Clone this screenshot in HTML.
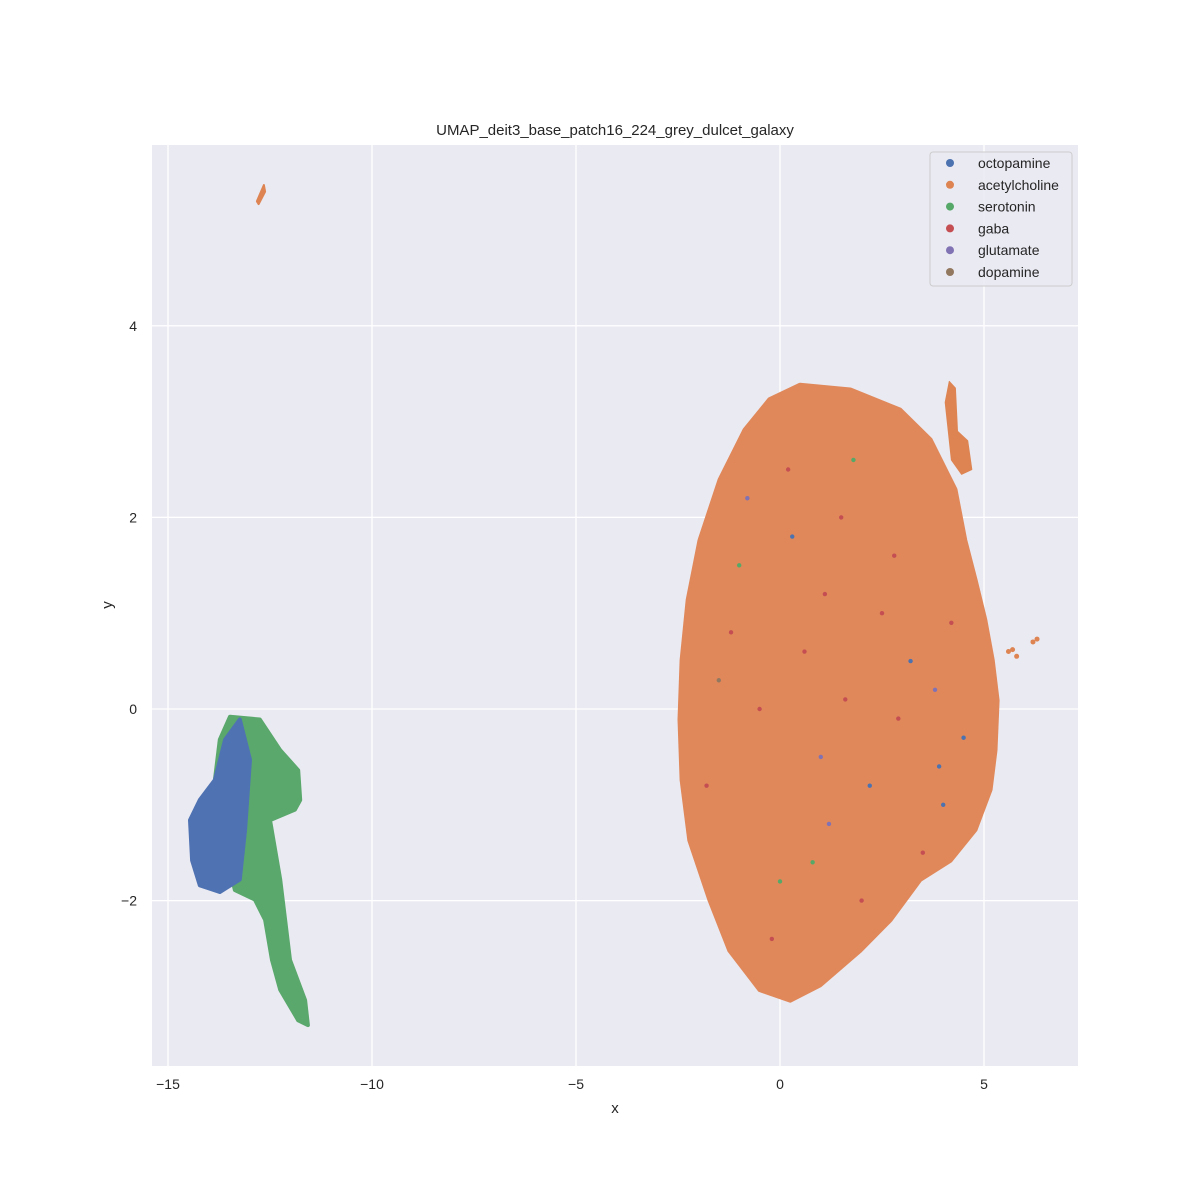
<!DOCTYPE html>
<html><head><meta charset="utf-8"><style>
html,body{margin:0;padding:0;background:#fff;}
svg{display:block;font-family:"Liberation Sans","DejaVu Sans",sans-serif;}
</style></head><body>
<svg id="chart" width="1200" height="1200" viewBox="0 0 1200 1200" xmlns="http://www.w3.org/2000/svg">
<rect x="0" y="0" width="1200" height="1200" fill="#fff"/>
<text x="615" y="135" text-anchor="middle" font-size="15" fill="#262626">UMAP_deit3_base_patch16_224_grey_dulcet_galaxy</text>
<rect x="152" y="145" width="926" height="921" fill="#eaeaf2"/>
<g id="grid"></g>
<g id="marks"></g>
<g id="ticks"></g>
<text x="615" y="1113" text-anchor="middle" font-size="15" fill="#262626">x</text>
<text x="112" y="605" text-anchor="middle" font-size="15" fill="#262626" transform="rotate(-90 112 605)">y</text>
<g id="legend"></g>
</svg>
<script>
const xTicks = [-15, -10, -5, 0, 5];
const xTickLabels = ["\u221215", "\u221210", "\u22125", "0", "5"];
const yTicks = [4, 2, 0, -2];
const yTickLabels = ["4", "2", "0", "\u22122"];
const categories = ["octopamine","acetylcholine","serotonin","gaba","glutamate","dopamine"];
const colors = ["#4c72b0","#dd8452","#55a868","#c44e52","#8172b3","#937860"];
// cluster outlines (data coords)
const acetylMainX = [0.49,1.72,2.94,3.68,4.29,4.53,4.78,5.02,5.2,5.32,5.27,5.15,4.78,4.17,3.43,2.70,1.96,0.98,0.25,-0.49,-1.23,-1.72,-2.21,-2.40,-2.45,-2.40,-2.25,-1.96,-1.47,-0.86,-0.25];
const acetylMainY = [3.38,3.33,3.12,2.81,2.29,1.76,1.35,0.93,0.51,0.09,-0.43,-0.84,-1.26,-1.58,-1.78,-2.20,-2.52,-2.88,-3.04,-2.93,-2.52,-1.99,-1.37,-0.74,-0.11,0.51,1.14,1.76,2.39,2.91,3.23];
const serotoninX = [-13.48,-12.75,-12.25,-11.81,-11.76,-11.89,-12.5,-12.25,-12.13,-12.01,-11.64,-11.57,-11.81,-12.25,-12.45,-12.62,-12.87,-13.36,-13.60,-13.77,-13.85,-13.73];
const serotoninY = [-0.08,-0.11,-0.43,-0.64,-0.95,-1.05,-1.16,-1.78,-2.20,-2.62,-3.04,-3.30,-3.25,-2.93,-2.62,-2.20,-1.99,-1.89,-1.47,-0.95,-0.74,-0.32];
const octopamineX = [-14.22,-13.85,-13.60,-13.24,-12.99,-13.11,-13.24,-13.73,-14.22,-14.41,-14.46];
const octopamineY = [-0.95,-0.74,-0.32,-0.11,-0.53,-1.26,-1.78,-1.91,-1.84,-1.58,-1.16];
const acetylTopX = [-12.65,-12.62,-12.78,-12.82];
const acetylTopY = [5.47,5.40,5.27,5.30];
const acetylStripX = [4.15,4.3,4.35,4.6,4.7,4.45,4.2,4.05];
const acetylStripY = [3.42,3.35,2.9,2.8,2.5,2.45,2.6,3.2];
const outlierX = [6.3,6.2,5.7,5.8,5.6];
const outlierY = [0.73,0.70,0.62,0.55,0.6];
// sprinkled minority points inside main cluster
const speckX = [0.2,1.5,-1.0,2.5,3.2,-0.5,1.0,4.0,-1.8,0.8,2.0,3.8,-1.2,0.3,1.8,2.8,4.5,-0.2,1.2,3.5,-1.5,0.6,2.2,4.2,0.0,1.6,-0.8,2.9,3.9,1.1];
const speckY = [2.5,2.0,1.5,1.0,0.5,0.0,-0.5,-1.0,-0.8,-1.6,-2.0,0.2,0.8,1.8,2.6,1.6,-0.3,-2.4,-1.2,-1.5,0.3,0.6,-0.8,0.9,-1.8,0.1,2.2,-0.1,-0.6,1.2];
const speckCat = [3,3,2,3,0,3,4,0,3,2,3,4,3,0,2,3,0,3,4,3,5,3,0,3,2,3,4,3,0,3];

const NS="http://www.w3.org/2000/svg";
const X0=780, XS=40.8, Y0=709, YS=95.8;
function sx(v){return X0+XS*v;}
function sy(v){return Y0-YS*v;}
function mk(tag,attrs,parent){const e=document.createElementNS(NS,tag);for(const k in attrs)e.setAttribute(k,attrs[k]);parent.appendChild(e);return e;}
const grid=document.getElementById('grid'), marks=document.getElementById('marks'), ticks=document.getElementById('ticks'), legend=document.getElementById('legend');
xTicks.forEach((t,i)=>{
  const l=mk('line',{x1:sx(t),x2:sx(t),y1:145,y2:1066,stroke:'#fff','stroke-width':1.3},grid);
  
  
  const tx=mk('text',{x:sx(t),y:1089,'text-anchor':'middle','font-size':14,fill:'#262626'},ticks);
  tx.textContent=xTickLabels[i];
  
  
});
yTicks.forEach((t,i)=>{
  const l=mk('line',{x1:152,x2:1078,y1:sy(t),y2:sy(t),stroke:'#fff','stroke-width':1.3},grid);
  
  
  const tx=mk('text',{x:137,y:sy(t)+5,'text-anchor':'end','font-size':14,fill:'#262626'},ticks);
  tx.textContent=yTickLabels[i];
  
  
});
function blob(xs,ys,color,name,sw){
  const pts=xs.map((x,i)=>sx(x).toFixed(1)+','+sy(ys[i]).toFixed(1)).join(' ');
  const p=mk('polygon',{points:pts,fill:color,stroke:color,'stroke-width':sw||4,'stroke-linejoin':'round'},marks);
  
  
}
blob(acetylMainX,acetylMainY,'#e0885a','acetylcholine-main-cluster',5);
blob(serotoninX,serotoninY,'#5aa86c','serotonin-cluster',4);
blob(octopamineX,octopamineY,'#4f72b2','octopamine-cluster',4);
blob(acetylTopX,acetylTopY,'#dd8452','acetylcholine-top-cluster',2);
blob(acetylStripX,acetylStripY,'#dd8452','acetylcholine-strip',1);
outlierX.forEach((x,i)=>{
  const c=mk('circle',{cx:sx(x),cy:sy(outlierY[i]),r:2.5,fill:'#dd8452'},marks);
  
  
});
speckX.forEach((x,i)=>{
  const c=mk('circle',{cx:sx(x),cy:sy(speckY[i]),r:2.2,fill:colors[speckCat[i]]},marks);
  
  
});
// legend
const lb=mk('rect',{x:930,y:152,width:142,height:134,rx:3,fill:'#eaeaf2',stroke:'#cccccc','fill-opacity':0.8},legend);


categories.forEach((c,i)=>{
  const y=163+i*21.8;
  const d=mk('circle',{cx:950,cy:y,r:4,fill:colors[i]},legend);
  
  
  const t=mk('text',{x:978,y:y+5,'font-size':14,fill:'#262626'},legend);
  t.textContent=c;
  
  
});
</script>
</body></html>
